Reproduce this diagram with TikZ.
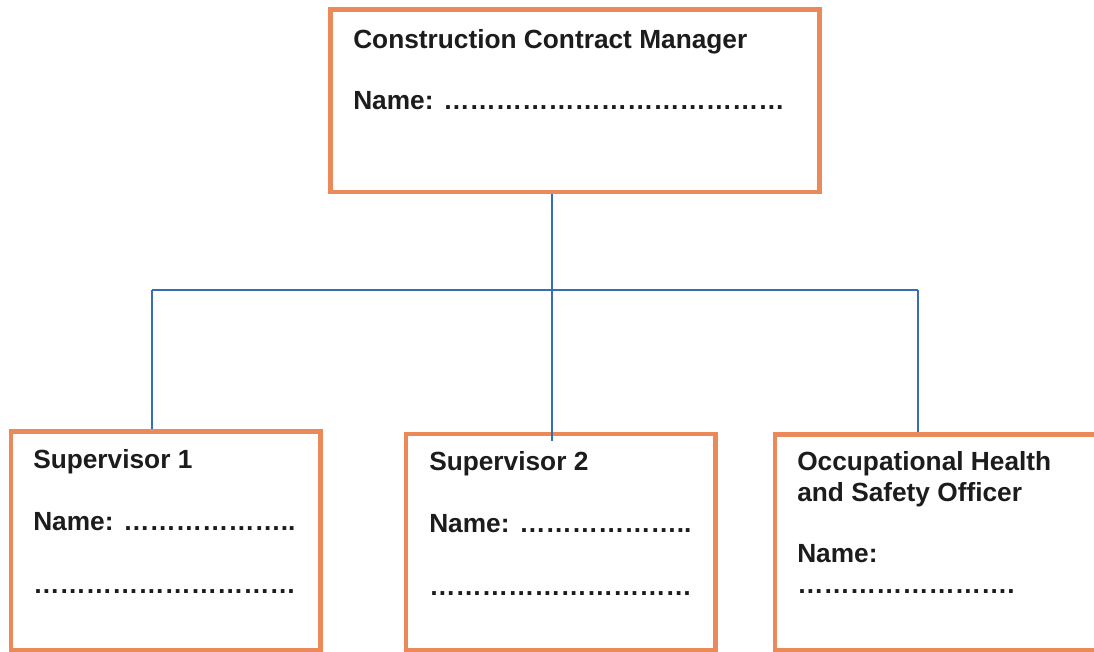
\documentclass[tikz,border=0pt]{standalone}
\usepackage{fontspec}
\setmainfont{Liberation Sans}
\definecolor{boxorange}{RGB}{236,137,88}
\definecolor{linkblue}{RGB}{52,110,180}
\definecolor{txt}{RGB}{28,28,28}
\newcommand\dd{…}
\tikzset{
  orgbox/.style={draw=boxorange, line width=3.1pt, fill=white, inner sep=0pt, rectangle},
  lbl/.style={anchor=base west, inner sep=0pt, text=txt, font=\fontsize{19.7pt}{23.25pt}\selectfont\bfseries},
  link/.style={draw=linkblue, line width=1.5pt}
}
\begin{document}
\begin{tikzpicture}[x=0.75pt,y=-0.75pt]
\clip (0,0) rectangle (1094,651);
\fill[white] (0,0) rectangle (1094,651);
% boxes
\node[orgbox, minimum width=366.75pt, minimum height=136.9pt] (top) at (575,100.75) {};
\node[orgbox, minimum width=232.1pt, minimum height=163.9pt] (sup1) at (165.75,540.75) {};
\node[orgbox, minimum width=232.1pt, minimum height=162pt] (sup2) at (560.75,542) {};
\node[orgbox, minimum width=247.5pt, minimum height=161.6pt] (ohs) at (940,542.25) {};
% connectors
\coordinate (vtop) at (552,290);
\coordinate (busL) at (152,290);
\coordinate (busR) at (918,290);
\draw[link] (top.south -| vtop) -- (vtop);
\draw[link] (busL) -- (busR);
\draw[link] (busL) -- (busL |- sup1.north);
\draw[link] (vtop) -- ([yshift=-7pt]vtop |- sup2.north);
\draw[link] (busR) -- (busR |- ohs.north);
% texts
\node[lbl] (t1) at (353,48) {Construction Contract Manager};
\node[lbl] (t2) at (353,109) {Name: \dd\dd\dd\dd\dd\dd\dd\dd\dd\dd\dd\dd\dd};
\node[lbl] (s1a) at (33,468) {Supervisor 1};
\node[lbl] (s1b) at (33,530) {Name: \dd\dd\dd\dd\dd\dd..};
\node[lbl] (s1c) at (33,593) {\dd\dd\dd\dd\dd\dd\dd\dd\dd\dd};
\node[lbl] (s2a) at (429,470) {Supervisor 2};
\node[lbl] (s2b) at (429,532) {Name: \dd\dd\dd\dd\dd\dd..};
\node[lbl] (s2c) at (429,595) {\dd\dd\dd\dd\dd\dd\dd\dd\dd\dd};
\node[lbl] (o1) at (797,470) {Occupational Health};
\node[lbl] (o2) at (797,501) {and Safety Officer};
\node[lbl] (o3) at (797,562) {Name:};
\node[lbl] (o4) at (797,593) {\dd\dd\dd\dd\dd\dd\dd\dd.};
\end{tikzpicture}
\end{document}
